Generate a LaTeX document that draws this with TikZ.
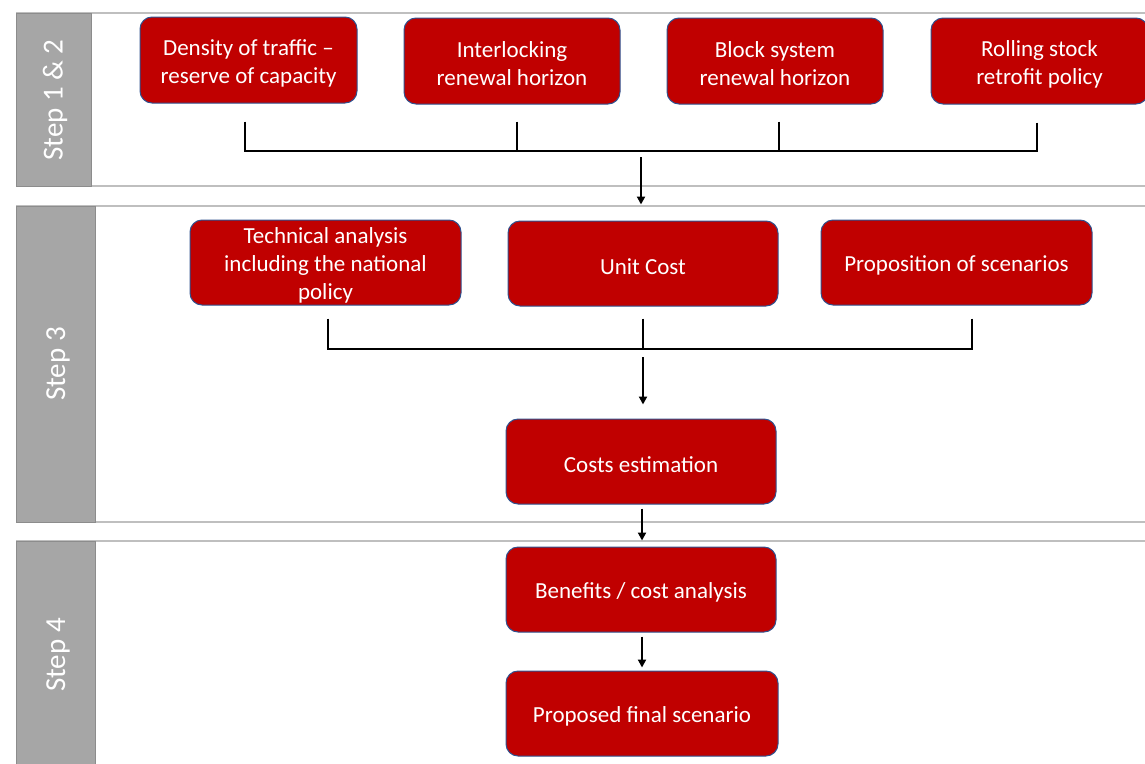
\documentclass[tikz,border=0pt]{standalone}
\usepackage{fontspec}
\setmainfont{Carlito}
\usetikzlibrary{arrows.meta,calc}
\definecolor{boxred}{HTML}{C00000}
\definecolor{boxedge}{HTML}{2F528F}
\definecolor{tabgray}{HTML}{A6A6A6}
\definecolor{tabedge}{HTML}{8C8C8C}
\definecolor{bandline}{HTML}{BFBFBF}
\tikzset{
  stepbox/.style={draw=boxedge, line width=1pt, fill=boxred, rounded corners=12pt, inner sep=0pt},
  boxtext/.style={text=white, font=\fontsize{23}{28}\selectfont, align=center, inner sep=0pt},
  steptab/.style={fill=tabgray, draw=tabedge, line width=1pt},
  tablabel/.style={text=white, font=\fontsize{29}{34}\selectfont, rotate=90},
  bandedge/.style={draw=bandline, line width=1.5pt},
  bus/.style={line width=2pt, draw=black},
  flow/.style={line width=2pt, draw=black, -{Triangle[length=8pt,width=8pt]}}
}
% red rounded box from (x1,y1) to (x2,y2) with its centred caption
\newcommand{\boxat}[6]{% name, x1, y1, x2, y2, text
  \node[stepbox, minimum width={#4-#2}, minimum height={#5-#3}] (#1) at ({(#2+#4)/2},{(#3+#5)/2}) {};
  \node[boxtext] (#1-text) at ($(#1.center)+(0,3)$) {#6};}
\begin{document}
\begin{tikzpicture}[x=1pt,y=-1pt]
\useasboundingbox (0,0) rectangle (1145,763);

% ---- bands and side tabs
\draw[bandedge] (16,13) -- (1145,13);
\draw[bandedge] (16,186) -- (1145,186);
\draw[bandedge] (16,206) -- (1145,206);
\draw[bandedge] (16,522) -- (1145,522);
\draw[bandedge] (16,541) -- (1145,541);

\draw[steptab] (16,13) rectangle (91,186);
\draw[steptab] (16,206) rectangle (95,522);
\draw[steptab] (16,541) rectangle (95,770);

\node[tablabel] (t12) at (55,100) {Step 1 \& 2};
\node[tablabel] (t3) at (58,364) {Step 3};
\node[tablabel] (t4) at (58,655) {Step 4};

% ---- step 1 & 2
\boxat{dens}{140}{17}{357}{103}{Density of traffic --\\reserve of capacity}
\boxat{inter}{404}{18}{620}{104}{Interlocking\\renewal horizon}
\boxat{block}{667}{18}{883}{104}{Block system\\renewal horizon}
\boxat{roll}{931}{18}{1148}{104}{Rolling stock\\retrofit policy}

\coordinate (busA) at (641,151);
\draw[bus] ($(dens.south)+(-4,18)$) |- (busA);
\draw[bus] ($(roll.south)+(-3,18)$) |- (busA);
\draw[bus] ($(inter.south)+(5,17)$) -- ($(inter.south)+(5,47)$);
\draw[bus] ($(block.south)+(4,17)$) -- ($(block.south)+(4,47)$);

% ---- step 3
\boxat{tech}{190}{220}{461}{305}{Technical analysis\\including the national\\policy}
\boxat{unit}{508}{221}{778}{306}{Unit Cost}
\boxat{prop}{821}{220}{1092}{305}{Proposition of scenarios}
\boxat{cost}{506}{419}{776}{504}{Costs estimation}

\draw[flow] ($(busA)+(0,6)$) -- ($(unit.north)+(-2,-16)$);

\coordinate (busB) at (643,349);
\draw[bus] ($(tech.south)+(2,13)$) |- (busB);
\draw[bus] ($(prop.south)+(15,13)$) |- (busB);
\draw[bus] ($(unit.south)+(0,12)$) -- (busB);
\draw[flow] ($(busB)+(0,8)$) -- ($(cost.north)+(2,-14)$);

% ---- step 4
\boxat{bene}{506}{547}{776}{632}{Benefits / cost analysis}
\boxat{final}{506}{671}{778}{756}{Proposed final scenario}

\draw[flow] ($(cost.south)+(1,4)$) -- ($(bene.north)+(1,-6)$);
\draw[flow] ($(bene.south)+(1,4)$) -- ($(final.north)+(0,-3)$);
\end{tikzpicture}
\end{document}
